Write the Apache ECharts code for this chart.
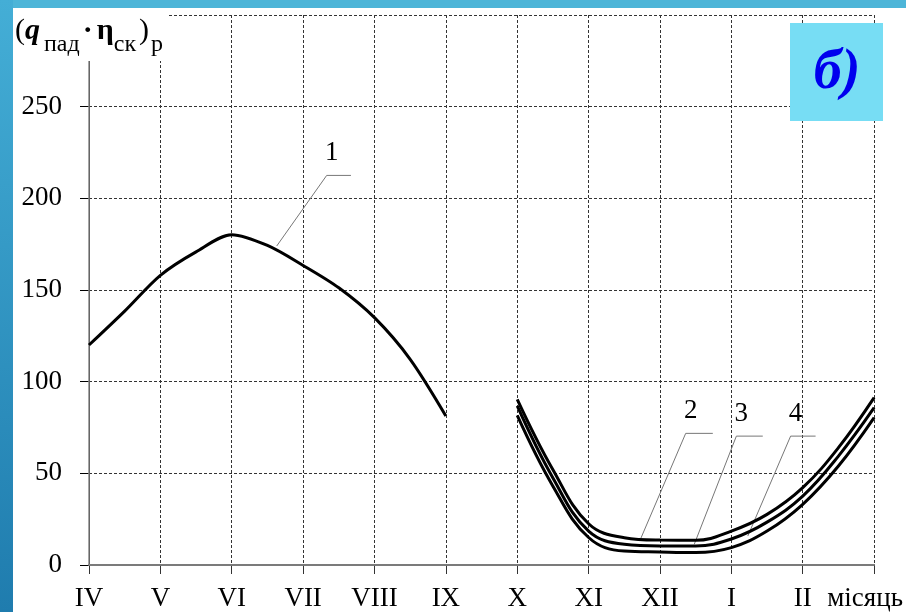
<!DOCTYPE html>
<html>
<head>
<meta charset="utf-8">
<script src="https://cdn.jsdelivr.net/npm/echarts@6/dist/echarts.min.js"></script>
<style>
html, body { margin: 0; padding: 0; background: #fff; }
#main { width: 906px; height: 612px; }
</style>
</head>
<body>
<div id="main"></div>
<script>
// місяці по осі X (останній підпис — назва осі)
const monthLabels = ['IV', 'V', 'VI', 'VII', 'VIII', 'IX', 'X', 'XI', 'XII', 'I', 'II', 'місяць'];
const yTicks = [0, 50, 100, 150, 200, 250];

// крива 1 (квітень - вересень)
const summerX = [0, 0.5, 1, 1.5, 2, 2.5, 3, 3.5, 4, 4.5, 5];
const curve1 = [120, 138.5, 158, 170.8, 180.2, 174.3, 163.4, 151.2, 134.9, 112.2, 81.3];

// криві 2, 3, 4 (жовтень - березень)
const winterX = [6, 6.5, 7, 7.5, 8, 8.5, 9, 9.5, 10, 10.5, 11];
const curve2 = [90.4, 52, 22.5, 14.9, 13.6, 13.5, 18.5, 27.6, 42.2, 64, 91.3];
const curve3 = [86.8, 47.5, 18.5, 11.3, 10.4, 10.4, 14.2, 23.4, 37.6, 59.4, 85.8];
const curve4 = [81.6, 43, 15, 7.6, 7.1, 6.8, 9.5, 18.5, 33.1, 54, 80.4];

// виноски з номерами кривих
const leaderNames = ['1', '2', '3', '4'];
const leaderTips = [[2.63, 174], [7.73, 14.4], [8.48, 11.3], [9.23, 15.8]];
const leaderKnees = [[3.33, 212.5], [8.36, 71.8], [9.07, 70.3], [9.83, 70.3]];
const leaderEnds = [[3.67, 212.5], [8.74, 71.8], [9.44, 70.3], [10.18, 70.3]];

const serif = '"Liberation Serif", "DejaVu Serif", serif';

function zip(xs, ys) {
    return xs.map((x, i) => [x, ys[i]]);
}

function curve(name, xs, ys, smooth) {
    return {
        name: name,
        type: 'line',
        data: zip(xs, ys),
        smooth: smooth,
        symbol: 'none',
        silent: true,
        z: 4,
        lineStyle: { color: '#000', width: 3 }
    };
}

const series = [
    curve('1', summerX, curve1, 0.3),
    curve('2', winterX, curve2, 0.4),
    curve('3', winterX, curve3, 0.4),
    curve('4', winterX, curve4, 0.4)
];

leaderTips.forEach((tip, i) => {
    series.push({
        type: 'line',
        data: [tip, leaderKnees[i], leaderEnds[i]],
        symbol: 'none',
        silent: true,
        z: 3,
        lineStyle: { color: '#777', width: 1 }
    });
});

series.push({
    type: 'scatter',
    data: leaderKnees.map((k, i) => ({ value: k, name: leaderNames[i] })),
    symbolSize: 0,
    silent: true,
    z: 5,
    itemStyle: { color: '#000', opacity: 1 },
    label: {
        show: true,
        formatter: '{b}',
        position: 'top',
        distance: 9,
        offset: [5, 0],
        fontFamily: serif,
        fontSize: 27,
        color: '#000',
        opacity: 1
    }
});

const gridLine = { show: true, lineStyle: { color: '#333', width: 1, type: [3, 2] } };

const main = { fontFamily: serif, fontSize: 30, lineHeight: 41, color: '#000', verticalAlign: 'top' };
const sub = { fontFamily: serif, fontSize: 24, color: '#000', fontWeight: 'normal', verticalAlign: 'bottom' };

const chart = echarts.init(document.getElementById('main'));
chart.setOption({
    backgroundColor: '#fff',
    animation: false,
    title: {
        text: '{p|(}{q|q}{s|пад}{d|·}{e|η}{s|ск}{r|)}{t|р}',
        left: 11,
        top: 14,
        z: 8,
        backgroundColor: '#fff',
        padding: [2, 4, 4, 4],
        textStyle: {
            rich: {
                p: Object.assign({}, main, { fontWeight: 'normal', padding: [0, 0, 0, 0] }),
                q: Object.assign({}, main, { fontWeight: 'bold', fontStyle: 'italic', padding: [0, 4, 0, 0] }),
                s: sub,
                d: Object.assign({}, main, { fontWeight: 'bold', padding: [0, 4, 0, 3] }),
                e: Object.assign({}, main, { fontWeight: 'bold' }),
                r: Object.assign({}, main, { fontWeight: 'normal', padding: [0, 0, 0, 3] }),
                t: Object.assign({}, sub, { padding: [0, 0, 0, 2] })
            }
        }
    },
    grid: { left: 89, right: 29, top: 15, bottom: 46 },
    xAxis: [{
        type: 'value',
        min: 0,
        max: 11,
        interval: 1,
        position: 'bottom',
        z: 2,
        axisLine: { lineStyle: { color: '#555', width: 2 } },
        axisTick: { length: 9, lineStyle: { color: '#333' } },
        axisLabel: {
            margin: 20,
            fontFamily: serif,
            fontSize: 27,
            color: '#000',
            formatter: v => (v === 11 ? '{m|' + monthLabels[v] + '}' : monthLabels[v]),
            rich: { m: { fontFamily: serif, fontSize: 27, color: '#000', padding: [0, 18, 0, 0] } }
        },
        splitLine: gridLine
    }, {
        type: 'value',
        min: 0,
        max: 11,
        position: 'top',
        z: 3,
        axisLine: { lineStyle: { color: '#888', width: 1.5 } },
        axisTick: { show: false },
        axisLabel: { show: false },
        splitLine: { show: false }
    }],
    yAxis: [{
        type: 'value',
        min: 0,
        max: 300,
        interval: 50,
        z: 2,
        axisLine: { show: true, lineStyle: { color: '#000', width: 1 } },
        axisTick: { show: true, length: 9, lineStyle: { color: '#000' } },
        axisLabel: {
            margin: 27,
            fontFamily: serif,
            fontSize: 27,
            color: '#000',
            formatter: v => (yTicks.includes(v) ? String(v) : '')
        },
        splitLine: gridLine
    }, {
        type: 'value',
        min: 0,
        max: 300,
        position: 'right',
        z: 3,
        axisLine: { show: true, lineStyle: { color: '#888', width: 1.5 } },
        axisTick: { show: false },
        axisLabel: { show: false },
        splitLine: { show: false }
    }],
    graphic: [
        { type: 'rect', silent: true, z: 10, shape: { x: 0, y: 0, width: 906, height: 8 }, style: { fill: '#4DB5D8' } },
        {
            type: 'rect', silent: true, z: 10, shape: { x: 0, y: 0, width: 13, height: 612 },
            style: {
                fill: new echarts.graphic.LinearGradient(0, 0, 0, 1, [
                    { offset: 0, color: '#44AED6' },
                    { offset: 1, color: '#1F7CAE' }
                ])
            }
        },
        { type: 'rect', silent: true, z: 10, shape: { x: 790, y: 23, width: 93, height: 98 }, style: { fill: '#77DDF4' } },
        {
            type: 'text', silent: true, z: 11, x: 837, y: 74,
            style: {
                text: 'б)',
                font: 'italic bold 56px "Liberation Serif"',
                fill: '#0000EE',
                align: 'center',
                verticalAlign: 'middle',
                textAlign: 'center',
                textVerticalAlign: 'middle'
            }
        }
    ],
    series: series
});
</script>
</body>
</html>
